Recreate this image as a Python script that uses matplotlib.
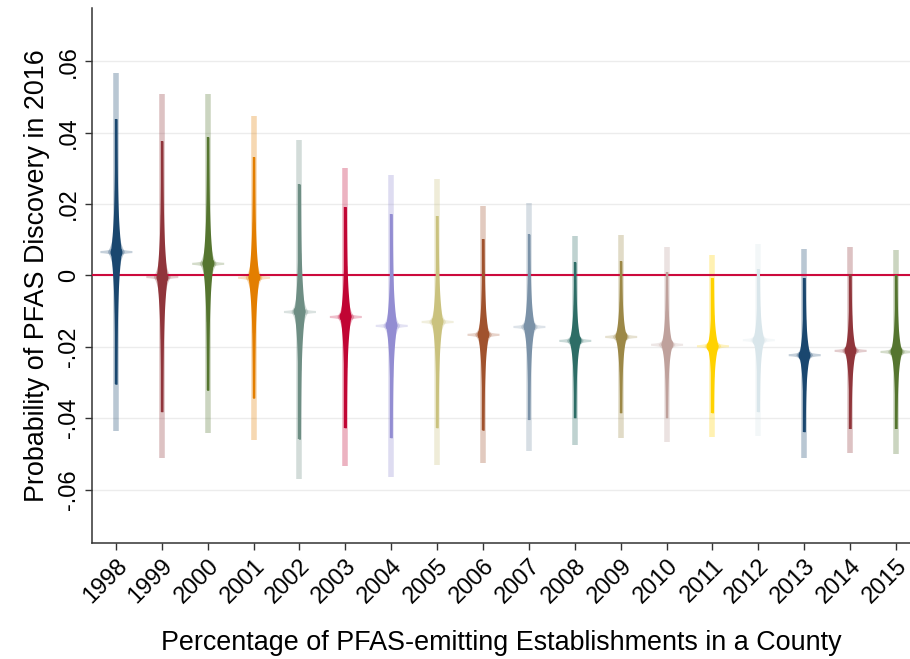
import numpy as np
import matplotlib
matplotlib.use("Agg")
import matplotlib.pyplot as plt

plt.rcParams['font.family'] = ['Liberation Sans', 'DejaVu Sans']

# point estimates and confidence bounds
years = list(range(1998, 2016))
point = [0.0067, -0.0003, 0.0034, -0.0005, -0.0101, -0.0115, -0.0140, -0.0129, -0.0165,
         -0.0143, -0.0182, -0.0171, -0.0193, -0.0197, -0.0180, -0.0222, -0.0210, -0.0213]
inner_lo = [-0.0305, -0.0382, -0.0322, -0.0344, -0.0459, -0.0427, -0.0455, -0.0427, -0.0434,
            -0.0404, -0.0399, -0.0385, -0.0399, -0.0385, -0.0382, -0.0438, -0.0429, -0.0429]
inner_hi = [0.0439, 0.0377, 0.0387, 0.0331, 0.0256, 0.0193, 0.0173, 0.0168, 0.0103,
            0.0115, 0.0037, 0.0040, 0.0011, -0.0006, 0.0019, -0.0006, 0.0005, 0.0000]
outer_lo = [-0.0436, -0.0512, -0.0443, -0.0460, -0.0571, -0.0533, -0.0564, -0.0530, -0.0527,
            -0.0492, -0.0474, -0.0457, -0.0468, -0.0452, -0.0450, -0.0513, -0.0499, -0.0501]
outer_hi = [0.0568, 0.0510, 0.0508, 0.0448, 0.0380, 0.0300, 0.0282, 0.0270, 0.0196,
            0.0203, 0.0112, 0.0114, 0.0079, 0.0058, 0.0089, 0.0075, 0.0079, 0.0072]

yticks = [-0.06, -0.04, -0.02, 0, 0.02, 0.04, 0.06]
ytick_labels = ['-.06', '-.04', '-.02', '0', '.02', '.04', '.06']

# stata s2color palette
palette = ['#1a476f', '#90353b', '#55752f', '#e37e00', '#6e8e84', '#c10534', '#938dd2',
           '#cac27e', '#a0522d', '#7b92a8', '#2d6d66', '#9c8847', '#bfa19c', '#ffd200',
           '#d9e6eb']

fig = plt.figure(figsize=(9.1, 6.59), dpi=100)
ax_w = 0.899
ax = fig.add_axes([0.101, 0.176, ax_w, 0.812])

xlim = (0.477, 18.305)
ylim = (-0.075, 0.075)
ax.set_xlim(*xlim)
ax.set_ylim(*ylim)

# data units per pixel
px_x = (xlim[1] - xlim[0]) / (ax_w * 910)
px_y = (ylim[1] - ylim[0]) / (0.812 * 659)

for i, yr in enumerate(years):
    x = i + 1
    p = point[i]
    c = palette[i % len(palette)]
    se = (inner_hi[i] - inner_lo[i]) / (2 * 1.96)

    ax.vlines(x, outer_lo[i], outer_hi[i], color=c, alpha=0.3, lw=4, zorder=2)
    ax.vlines(x, inner_lo[i], inner_hi[i], color=c, lw=1.7, zorder=4)

    # spindle
    yy = np.linspace(inner_lo[i], inner_hi[i], 500)
    d = np.abs(yy - p) / se
    hw = px_x * (1.0 + 4.5 * np.exp(-d / 0.5))
    ax.fill_betweenx(yy, x - hw, x + hw, color=c, lw=0, zorder=4)

    # light halo
    yy2 = np.linspace(p - 0.9 * se, p + 0.9 * se, 300)
    d2 = np.abs(yy2 - p) / se
    hw2 = px_x * (1.5 + 7.0 * np.exp(-d2 / 0.18))
    ax.fill_betweenx(yy2, x - hw2, x + hw2, color=c, alpha=0.3, lw=0, zorder=3)

    # horizontal spike
    xx = np.linspace(x - 16 * px_x, x + 16 * px_x, 200)
    dx = np.abs(xx - x) / px_x
    hh = px_y * (0.8 + 6.0 * np.exp(-dx / 5.0))
    ax.fill_between(xx, p - hh, p + hh, color=c, alpha=0.25, lw=0, zorder=3)

    ax.plot(x, p, 'o', ms=8.6, color=c, mec='none', zorder=5)

ax.axhline(0, color='#cc0a3c', lw=1.5, zorder=3.5)

ax.set_yticks(yticks)
ax.set_yticklabels(ytick_labels, rotation=90, va='center', fontsize=17)
ax.grid(axis='y', color='#ececec', lw=1)
ax.set_axisbelow(True)

ax.set_xticks(range(1, len(years) + 1))
ax.set_xticklabels([str(y) for y in years], rotation=45, ha='right',
                   rotation_mode='anchor', fontsize=17)

for s in ['top', 'right']:
    ax.spines[s].set_visible(False)
for s in ['left', 'bottom']:
    ax.spines[s].set_color('#333333')
    ax.spines[s].set_linewidth(1.1)
ax.tick_params(length=5, width=1, color='#333333')

ax.set_ylabel('Probability of PFAS Discovery in 2016', fontsize=19.4, labelpad=6)
ax.set_xlabel('Percentage of PFAS-emitting Establishments in a County', fontsize=19.4,
              labelpad=16)

fig.savefig('out.png', dpi=100)
